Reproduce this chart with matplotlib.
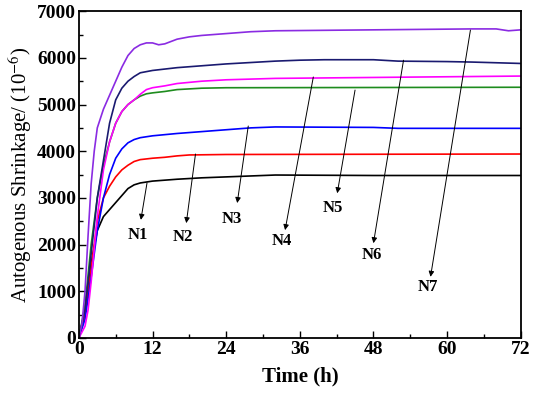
import matplotlib.pyplot as plt
from matplotlib.ticker import MultipleLocator

# data (time in h, shrinkage in 1e-6)
n1_t = [0, 1, 2, 3, 4, 5, 6, 7, 8, 9, 10, 12, 16, 20, 24, 32, 48, 72]
n1_v = [0, 600, 1600, 2300, 2600, 2750, 2900, 3050, 3200, 3280, 3320, 3360,
        3400, 3430, 3450, 3490, 3480, 3480]

n2_t = [0, 1, 2, 3, 4, 5, 6, 7, 8, 9, 10, 12, 14, 16, 18, 24, 72]
n2_v = [0, 500, 1500, 2500, 3000, 3250, 3450, 3600, 3700, 3780, 3820, 3850,
        3870, 3900, 3920, 3930, 3940]

n3_t = [0, 1, 2, 3, 4, 5, 6, 7, 8, 9, 10, 12, 16, 20, 24, 28, 32, 48, 52, 72]
n3_v = [0, 400, 1300, 2300, 3000, 3500, 3850, 4050, 4180, 4250, 4290, 4330,
        4380, 4420, 4460, 4500, 4520, 4510, 4490, 4490]

n4_t = [0, 1, 2, 3, 4, 5, 6, 7, 8, 9, 10, 11, 12, 14, 16, 20, 24, 72]
n4_v = [0, 700, 2000, 3000, 3700, 4200, 4600, 4850, 5000, 5100, 5180, 5230,
        5250, 5280, 5320, 5350, 5360, 5370]

n5_t = [0, 1, 1.5, 2, 3, 4, 5, 6, 7, 8, 9, 10, 11, 12, 14, 16, 20, 24, 32,
        40, 48, 56, 64, 72]
n5_v = [0, 250, 600, 1200, 2600, 3600, 4200, 4600, 4850, 5000, 5100, 5220,
        5320, 5360, 5400, 5450, 5500, 5530, 5560, 5570, 5580, 5590, 5600,
        5610]

n6_t = [0, 1, 2, 3, 4, 5, 6, 7, 8, 9, 10, 12, 14, 16, 20, 24, 28, 32, 36,
        40, 48, 52, 60, 64, 72]
n6_v = [0, 600, 1800, 3000, 3800, 4600, 5100, 5350, 5500, 5600, 5680, 5730,
        5760, 5790, 5830, 5870, 5900, 5930, 5950, 5960, 5960, 5930, 5920,
        5910, 5880]

n7_t = [0, 0.5, 1, 1.5, 2, 2.5, 3, 4, 5, 6, 7, 8, 9, 10, 11, 12, 13, 14, 16,
        18, 20, 24, 28, 32, 40, 48, 56, 64, 68, 70, 72]
n7_v = [0, 300, 1000, 2200, 3300, 4000, 4500, 4900, 5200, 5500, 5800, 6050,
        6200, 6280, 6320, 6320, 6280, 6300, 6400, 6450, 6480, 6520, 6560,
        6580, 6590, 6600, 6610, 6620, 6620, 6580, 6600]

labels = ["N1", "N2", "N3", "N4", "N5", "N6", "N7"]
colors = ["#000000", "#ff0000", "#0000ff", "#1e8c1e", "#ff00ff", "#1a1a70",
          "#8a2be2"]

# arrow tail (on curve), arrow head, and label position
arrow_tail = [(11.1, 3320), (19.0, 3940), (27.6, 4540), (38.2, 5590),
              (45.0, 5310), (52.9, 5950), (63.8, 6595)]
arrow_head = [(10.1, 2530), (17.5, 2460), (25.8, 2890), (33.6, 2310),
              (42.1, 3100), (48.0, 2030), (57.3, 1310)]
label_pos = [(9.6, 2200), (17.0, 2160), (25.0, 2550), (33.1, 2080),
             (41.4, 2780), (47.8, 1780), (56.9, 1090)]


def main() -> None:
    plt.rcParams["font.family"] = ["Liberation Serif", "DejaVu Serif"]
    plt.rcParams["mathtext.fontset"] = "stix"

    figure = plt.figure(figsize=(5.33, 3.99), dpi=100)
    axis = figure.add_axes([0.148, 0.153, 0.829, 0.819])

    series = [(n1_t, n1_v), (n2_t, n2_v), (n3_t, n3_v), (n4_t, n4_v),
              (n5_t, n5_v), (n6_t, n6_v), (n7_t, n7_v)]
    for (t, v), color in zip(series, colors, strict=True):
        axis.plot(t, v, color=color, linewidth=1.2)

    for tail, head, pos, label in zip(arrow_tail, arrow_head, label_pos,
                                      labels, strict=True):
        axis.annotate(
            "",
            xy=head,
            xytext=tail,
            arrowprops=dict(arrowstyle="-|>", color="black", lw=0.7,
                            mutation_scale=8, shrinkA=0, shrinkB=0),
        )
        axis.text(pos[0], pos[1], label, ha="center", va="center",
                  fontsize=12, fontweight="bold")

    axis.set_xlim(0, 72)
    axis.set_ylim(0, 7000)
    axis.xaxis.set_major_locator(MultipleLocator(12))
    axis.xaxis.set_minor_locator(MultipleLocator(6))
    axis.yaxis.set_major_locator(MultipleLocator(1000))
    axis.yaxis.set_minor_locator(MultipleLocator(500))
    axis.tick_params(which="both", direction="in", top=False, right=False,
                     width=1.0)
    axis.tick_params(which="major", length=5, labelsize=14, pad=2)
    axis.tick_params(which="minor", length=3)
    for tick_label in axis.get_xticklabels() + axis.get_yticklabels():
        tick_label.set_fontweight("bold")
    for spine in axis.spines.values():
        spine.set_linewidth(1.3)

    axis.set_xlabel("Time (h)", fontsize=15, fontweight="bold", labelpad=6)
    axis.set_ylabel("Autogenous Shrinkage/ (10$^{-6}$)", fontsize=15,
                    labelpad=2)

    figure.savefig("out.png", dpi=100)


if __name__ == "__main__":
    main()
